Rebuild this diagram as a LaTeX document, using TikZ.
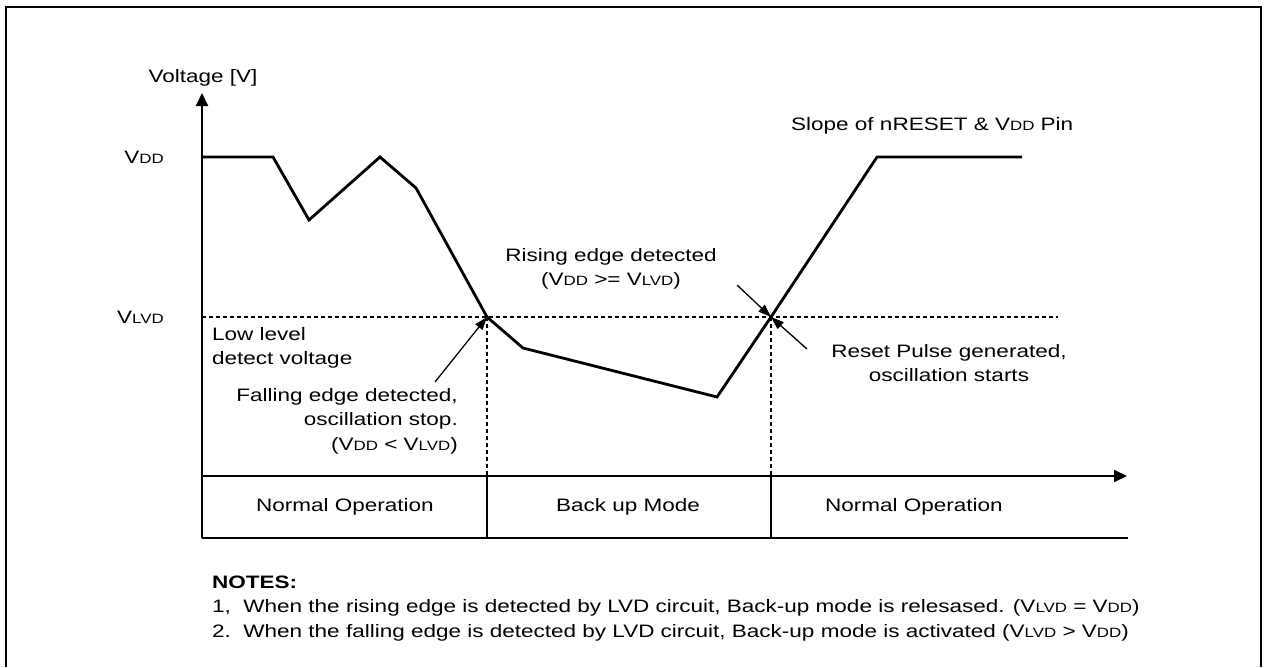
\documentclass[tikz,border=0pt]{standalone}
\usepackage{fontspec}
\setmainfont{Liberation Sans}[FakeStretch=1.25]
\usetikzlibrary{arrows.meta}
\newcommand{\sm}[1]{{\fontsize{13.5pt}{13.5pt}\selectfont #1}}
\begin{document}
\begin{tikzpicture}[x=1pt,y=-1pt,
  every node/.style={inner sep=0pt, font=\fontsize{18pt}{24.5pt}\selectfont},
  frame/.style={line width=2pt},
  axis/.style={line width=2pt, -{Triangle[length=13pt,width=12pt]}},
  boxline/.style={line width=2pt},
  divider/.style={line width=1.3pt},
  guide/.style={line width=1.1pt, dash pattern=on 4pt off 3pt},
  curve/.style={line width=2.8pt, line join=miter},
  ann/.style={line width=1.3pt, -{Triangle[length=13pt,width=9pt]}}]
\useasboundingbox (0,0) rectangle (1265,667);
% frame
\coordinate (f1) at (6,667); \coordinate (f2) at (6,7);
\coordinate (f3) at (1261,7); \coordinate (f4) at (1261,667);
\draw[frame] (f1) -- (f2) -- (f3) -- (f4);
% axes
\coordinate (ybot) at (202,538); \coordinate (ytip) at (202,93);
\coordinate (O) at (202,476); \coordinate (xtip) at (1127,476);
\coordinate (bl) at (202,538); \coordinate (br) at (1128,538);
\draw[axis] (ybot) -- (ytip);
\draw[axis] (O) -- (xtip);
\draw[boxline] (bl) -- (br);
% curve points
\coordinate (p0) at (202,157); \coordinate (p1) at (273,157);
\coordinate (p2) at (309,220); \coordinate (p3) at (380,157);
\coordinate (p4) at (416,188); \coordinate (p5) at (487,317);
\coordinate (p6) at (523,348); \coordinate (p7) at (717,397);
\coordinate (p8) at (771,317); \coordinate (p9) at (877,157);
\coordinate (p10) at (1022,157);
% guides
\coordinate (dl) at (202,317); \coordinate (dr) at (1058,317);
\coordinate (d1) at (487,476); \coordinate (d2) at (771,476);
\coordinate (e1) at (487,538); \coordinate (e2) at (771,538);
\draw[guide] (dl) -- (dr);
\draw[guide] (p5) -- (d1);
\draw[guide] (p8) -- (d2);
\draw[divider] (d1) -- (e1);
\draw[divider] (d2) -- (e2);
\draw[curve] (p0) -- (p1) -- (p2) -- (p3) -- (p4) -- (p5) -- (p6) -- (p7) -- (p8) -- (p9) -- (p10);
% annotation arrows
\coordinate (fa) at (435,382);
\coordinate (ra) at (737,285);
\coordinate (sa) at (807,349);
\draw[ann] (fa) -- (p5);
\draw[ann] (ra) -- (p8);
\draw[ann] (sa) -- (p8);
% labels
\node (ylab) at (203,78) {Voltage [V]};
\node[anchor=east] (vdd) at (164,157) {V\sm{DD}};
\node[anchor=east] (vlvd) at (164,317) {V\sm{LVD}};
\node[align=left, anchor=west] (low) at (212,348) {Low level\\detect voltage};
\node[align=right, anchor=east] (fall) at (458,421) {Falling edge detected,\\oscillation stop.\\(V\sm{DD} < V\sm{LVD})};
\node[align=center] (rise) at (611,269) {Rising edge detected\\(V\sm{DD} >= V\sm{LVD})};
\node[align=center] (reset) at (949,363) {Reset Pulse generated,\\oscillation starts};
\node[anchor=west] (slope) at (791,126) {Slope of nRESET \& V\sm{DD} Pin};
\node (m1) at (345,507) {Normal Operation};
\node (m2) at (628,507) {Back up Mode};
\node (m3) at (914,507) {Normal Operation};
\node[anchor=west, font=\fontsize{18pt}{24pt}\selectfont\bfseries] (notes) at (212,582) {NOTES:};
\node[anchor=west] (n1) at (212,608) {1,\ \ When the rising edge is detected by LVD circuit, Back-up mode is relesased. (V\sm{LVD} = V\sm{DD})};
\node[anchor=west] (n2) at (212,633) {2.\ \ When the falling edge is detected by LVD circuit, Back-up mode is activated (V\sm{LVD} > V\sm{DD})};
\end{tikzpicture}
\end{document}
